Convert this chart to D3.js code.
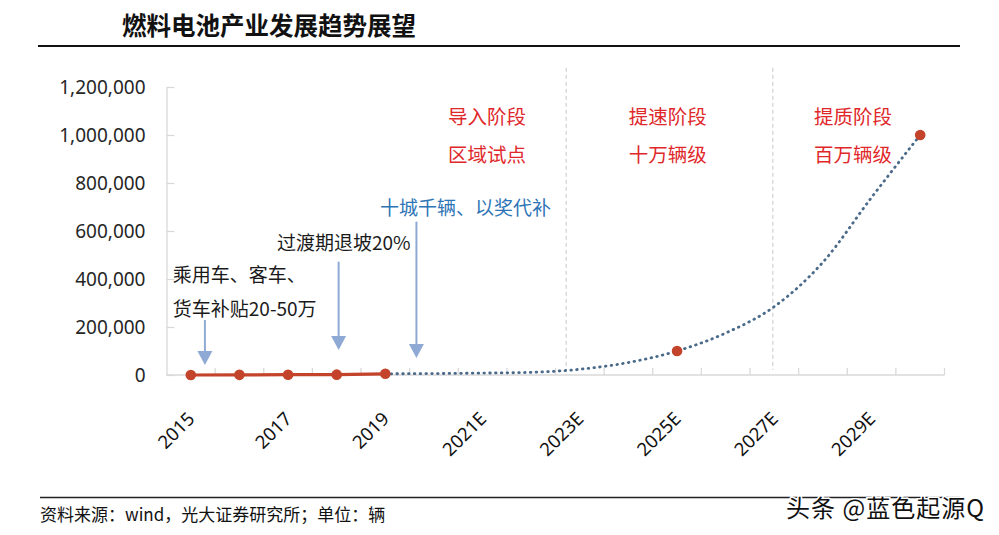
<!DOCTYPE html>
<html><head><meta charset="utf-8">
<script src="https://cdn.jsdelivr.net/npm/d3@7"></script>
<style>
html,body{margin:0;padding:0;background:#fff;}
svg{display:block;font-family:"Noto Sans CJK SC","Noto Sans",sans-serif;}
</style></head>
<body><svg id="chart" width="999" height="535"></svg>
<script>
// ---------- data ----------
const title = "燃料电池产业发展趋势展望";
const source = "资料来源：wind，光大证券研究所；单位：辆";
const watermark = "头条 @蓝色起源Q";
const categories = ["2015","2016","2017","2018","2019","2020E","2021E","2022E","2023E","2024E","2025E","2026E","2027E","2028E","2029E","2030E"];
const tickLabels = ["2015","2017","2019","2021E","2023E","2025E","2027E","2029E"];
const yTicks = [0,200000,400000,600000,800000,1000000,1200000];
const actualYears = ["2015","2016","2017","2018","2019"];
const actualValues = [10, 629, 1275, 1527, 5000];
const forecastYears = ["2019","2020E","2021E","2022E","2023E","2024E","2025E","2026E","2027E","2028E","2029E","2030E"];
const forecastValues = [5000, 6000, 8000, 11000, 24000, 52000, 100000, 175000, 285000, 470000, 740000, 1000000];
const forecastMarkers = ["2025E","2030E"];
// phase boundaries (in category slot units)
const phaseLines = [8.22, 12.47];
const phaseLabels = [
  {slot: 6.59, lines: ["导入阶段","区域试点"]},
  {slot: 10.31, lines: ["提速阶段","十万辆级"]},
  {slot: 14.12, lines: ["提质阶段","百万辆级"]}
];
const phaseLineValues = [1080000, 921000];
const policyTexts = [
  {slot: 0.13, value: 421000, text: "乘用车、客车、", color: "#1a1a1a"},
  {slot: 0.13, value: 281000, text: "货车补贴20-50万", color: "#1a1a1a"},
  {slot: 2.27, value: 558000, text: "过渡期退坡20%", color: "#1a1a1a"},
  {slot: 4.39, value: 701000, text: "十城千辆、以奖代补", color: "#2e75b6"}
];
const arrows = [
  {slot: 0.79, from: 229000, to: 41700},
  {slot: 3.54, from: 472000, to: 104000},
  {slot: 5.14, from: 639000, to: 71000}
];

// ---------- layout ----------
const svg = d3.select("#chart");
const plotLeft = 166.5, plotRight = 944.5, plotTop = 87, plotBottom = 375;

const x = d3.scaleBand().domain(categories).range([plotLeft, plotRight]).padding(0);
const slot = d3.scaleLinear().domain([0, categories.length]).range([plotLeft, plotRight]);
const y = d3.scaleLinear().domain([0, 1200000]).range([plotBottom, plotTop]);
const cx = d => x(d) + x.bandwidth() / 2;

// title
svg.append("text").attr("x", 122).attr("y", 35)
  .attr("font-size", 24.5).attr("font-weight", "bold").attr("fill", "#111")
  .text(title);
svg.append("line").attr("x1", 38).attr("x2", 960).attr("y1", 46).attr("y2", 46)
  .attr("stroke", "#111").attr("stroke-width", 1.8);

// phase dashed lines
svg.selectAll(".phase").data(phaseLines).join("line")
  .attr("x1", d => slot(d)).attr("x2", d => slot(d))
  .attr("y1", y(1280000)).attr("y2", y(0) - 5)
  .attr("stroke", "#c8c8c8").attr("stroke-width", 1).attr("stroke-dasharray", "4,3");

// y axis
const yAxis = d3.axisLeft(y).tickValues(yTicks).tickFormat(d3.format(",")).tickSizeInner(-8).tickSizeOuter(0).tickPadding(21);
const gy = svg.append("g").attr("transform", `translate(${plotLeft},0)`).call(yAxis);
gy.select(".domain").attr("stroke", "#d9d9d9").attr("stroke-width", 1.3);
gy.selectAll(".tick line").attr("stroke", "#d9d9d9").attr("stroke-width", 1.3);
gy.selectAll(".tick text").attr("font-size", 19).attr("fill", "#262626")
  .attr("font-family", "'Noto Sans','Noto Sans CJK SC',sans-serif");

// x axis
const gx = svg.append("g").attr("transform", `translate(0,${plotBottom})`);
gx.append("line").attr("x1", plotLeft).attr("x2", plotRight).attr("stroke", "#d9d9d9").attr("stroke-width", 1.3);
const boundaries = d3.range(1, categories.length + 1).map(i => slot(i));
gx.selectAll(".xt").data(boundaries).join("line")
  .attr("x1", d => d).attr("x2", d => d).attr("y1", 0).attr("y2", -7)
  .attr("stroke", "#d9d9d9").attr("stroke-width", 1.3);
gx.selectAll(".xl").data(tickLabels).join("text")
  .attr("transform", d => `translate(${cx(d) + 5},45) rotate(-45)`)
  .attr("text-anchor", "end").attr("font-size", 18.5).attr("fill", "#111")
  .attr("font-family", "'Noto Sans','Noto Sans CJK SC',sans-serif")
  .text(d => d);

// forecast dotted curve
const fData = forecastYears.map((k, i) => ({k, v: forecastValues[i]}));
svg.append("path").datum(fData)
  .attr("d", d3.line().x(d => cx(d.k)).y(d => y(d.v)).curve(d3.curveMonotoneX))
  .attr("fill", "none").attr("stroke", "#4a6a8a").attr("stroke-width", 2.8)
  .attr("stroke-linecap", "round")
  .attr("stroke-dasharray", "0.6,5.2");

// actual solid line
const aData = actualYears.map((k, i) => ({k, v: actualValues[i]}));
svg.append("path").datum(aData)
  .attr("d", d3.line().x(d => cx(d.k)).y(d => y(d.v)))
  .attr("fill", "none").attr("stroke", "#c4432b").attr("stroke-width", 3.2);
svg.selectAll(".am").data(aData).join("circle")
  .attr("cx", d => cx(d.k)).attr("cy", d => y(d.v)).attr("r", 5.3)
  .attr("fill", "#c4432b");
svg.selectAll(".fm").data(fData.filter(d => forecastMarkers.includes(d.k))).join("circle")
  .attr("cx", d => cx(d.k)).attr("cy", d => y(d.v)).attr("r", 5.3)
  .attr("fill", "#c4432b");

// arrows
const ag = svg.append("g");
arrows.forEach(a => {
  const ax = slot(a.slot), y0 = y(a.from), y1 = y(a.to);
  ag.append("line").attr("x1", ax).attr("x2", ax).attr("y1", y0).attr("y2", y1 - 12)
    .attr("stroke", "#8eaad4").attr("stroke-width", 2);
  ag.append("path").attr("d", `M${ax - 7.5},${y1 - 14} L${ax + 7.5},${y1 - 14} L${ax},${y1} Z`)
    .attr("fill", "#8eaad4");
});

// policy annotations
svg.selectAll(".pt").data(policyTexts).join("text")
  .attr("x", d => slot(d.slot)).attr("y", d => y(d.value))
  .attr("dominant-baseline", "central").attr("font-size", 19)
  .attr("fill", d => d.color).text(d => d.text);

// phase labels
phaseLabels.forEach(p => {
  p.lines.forEach((t, i) => {
    svg.append("text").attr("x", slot(p.slot)).attr("y", y(phaseLineValues[i]))
      .attr("text-anchor", "middle").attr("dominant-baseline", "central")
      .attr("font-size", 19.5).attr("fill", "#e0282b").text(t);
  });
});

// footer
svg.append("line").attr("x1", 40).attr("x2", 960).attr("y1", 497.5).attr("y2", 497.5)
  .attr("stroke", "#222").attr("stroke-width", 1.3);
svg.append("text").attr("x", 40).attr("y", 521).attr("font-size", 17).attr("fill", "#111").text(source);
svg.append("text").attr("x", 985).attr("y", 517).attr("text-anchor", "end")
  .attr("font-size", 24).attr("letter-spacing", 1).attr("fill", "#111")
  .attr("stroke", "#fff").attr("stroke-width", 3).attr("paint-order", "stroke")
  .text(watermark);
</script></body></html>
